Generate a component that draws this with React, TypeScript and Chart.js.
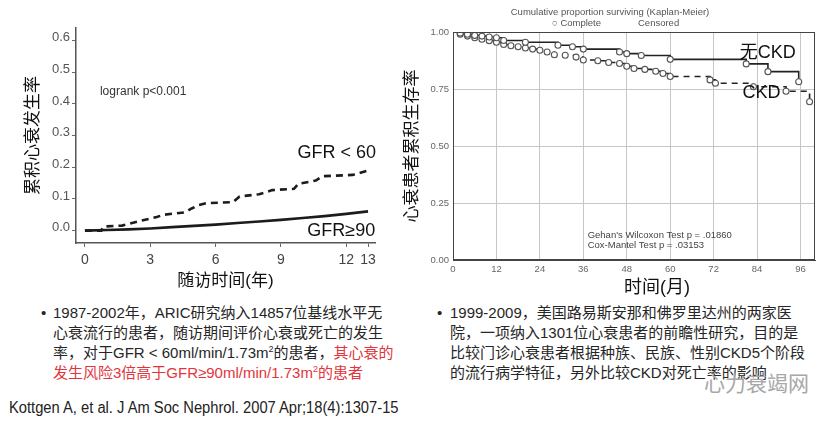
import React, { useEffect, useRef } from 'react';
import { Chart, registerables } from 'chart.js';

Chart.register(...registerables);

// ---------- Left chart (ARIC) ----------
const leftXTicks = [0, 3, 6, 9, 12, 13];
const leftYTicks = [0, 0.1, 0.2, 0.3, 0.4, 0.5, 0.6];
const gfr60Years = [0, 0.75, 0.85, 1.7, 2.5, 3.3, 3.6, 4.6, 4.9, 5.2, 5.6, 6.8, 7.1, 8.0, 8.6, 9.6, 9.8, 10.6, 10.9, 12.3, 13];
const gfr60Rate = [0, 0, 0.013, 0.016, 0.03, 0.043, 0.05, 0.058, 0.07, 0.08, 0.087, 0.09, 0.108, 0.115, 0.128, 0.132, 0.148, 0.158, 0.172, 0.176, 0.19];
const gfr90Years = [0, 1, 2, 3, 4, 5, 6, 7, 8, 9, 10, 11, 12, 13];
const gfr90Rate = [0, 0.002, 0.004, 0.007, 0.011, 0.015, 0.019, 0.024, 0.029, 0.034, 0.04, 0.046, 0.053, 0.061];

// ---------- Right chart (Kaplan-Meier) ----------
const kmXTicks = [0, 12, 24, 36, 48, 60, 72, 84, 96];
const kmYTicks = [0, 0.25, 0.5, 0.75, 1.0];
const noCkdMonths = [0, 2, 4, 6, 8, 10, 12, 14, 20, 29, 33, 36, 46, 48, 52, 60, 81, 87, 95.5];
const noCkdSurv = [1.0, 0.995, 0.99, 0.985, 0.982, 0.978, 0.975, 0.963, 0.955, 0.942, 0.935, 0.925, 0.912, 0.905, 0.897, 0.88, 0.86, 0.826, 0.782];
const ckdMonths = [0, 2, 4, 6, 8, 10, 12, 14, 16, 18, 20, 22, 24, 26, 28, 31, 34, 36, 40, 43, 46, 48, 50, 53, 56, 58, 60, 71, 72.5, 83, 92, 98.5];
const ckdSurv = [1.0, 0.99, 0.982, 0.975, 0.968, 0.962, 0.955, 0.945, 0.94, 0.935, 0.93, 0.925, 0.92, 0.912, 0.9, 0.898, 0.89, 0.877, 0.874, 0.866, 0.862, 0.85, 0.84, 0.836, 0.828, 0.818, 0.805, 0.79, 0.775, 0.76, 0.74, 0.694];

const FONT = '"Liberation Sans", "Noto Sans CJK SC", Arial, sans-serif';

type Note = {
  text: string;
  x: number;
  y: number;
  size: number;
  color: string;
  align?: CanvasTextAlign;
  coord?: 'data' | 'canvas';
};

const notesPlugin = {
  id: 'notes',
  afterDraw(chart: any, _args: any, opts: any) {
    const items: Note[] = (opts && opts.items) || [];
    const ctx = chart.ctx as CanvasRenderingContext2D;
    ctx.save();
    for (const it of items) {
      let px = it.x;
      let py = it.y;
      if (it.coord !== 'canvas') {
        px = chart.scales.x.getPixelForValue(it.x);
        py = chart.scales.y.getPixelForValue(it.y);
      }
      ctx.font = `${it.size}px ${FONT}`;
      ctx.fillStyle = it.color;
      ctx.textAlign = it.align || 'left';
      ctx.textBaseline = 'middle';
      ctx.fillText(it.text, px, py);
    }
    ctx.restore();
  },
};

const frameBorderPlugin = {
  id: 'frameBorder',
  afterDatasetsDraw(chart: any, _args: any, opts: any) {
    if (!opts || !opts.enabled) return;
    const { left, top, right, bottom } = chart.chartArea;
    const ctx = chart.ctx as CanvasRenderingContext2D;
    ctx.save();
    ctx.strokeStyle = opts.color || '#444';
    ctx.lineWidth = opts.width || 1;
    ctx.strokeRect(left + 0.5, top + 0.5, right - left - 1, bottom - top - 1);
    ctx.restore();
  },
};

function LeftChart() {
  const ref = useRef<HTMLCanvasElement>(null);
  useEffect(() => {
    const chart = new Chart(ref.current as HTMLCanvasElement, {
      type: 'line',
      data: {
        datasets: [
          {
            label: 'GFR < 60',
            data: gfr60Years.map((t, i) => ({ x: t, y: gfr60Rate[i] })),
            borderColor: '#1c1c1c',
            borderWidth: 2.6,
            borderDash: [7, 5],
            pointRadius: 0,
            tension: 0,
          },
          {
            label: 'GFR≥90',
            data: gfr90Years.map((t, i) => ({ x: t, y: gfr90Rate[i] })),
            borderColor: '#1c1c1c',
            borderWidth: 2.6,
            pointRadius: 0,
            tension: 0,
          },
        ],
      },
      options: {
        responsive: false,
        animation: false,
        devicePixelRatio: 1,
        layout: { padding: { left: 0, top: 28, right: 25, bottom: 0 } },
        scales: {
          x: {
            type: 'linear',
            min: -0.41,
            max: 13.32,
            afterBuildTicks: (s: any) => {
              s.ticks = leftXTicks.map((v) => ({ value: v }));
            },
            afterFit: (s: any) => {
              s.height = 57;
            },
            grid: { drawOnChartArea: false, drawTicks: true, tickLength: 4, color: '#666' },
            border: { display: true, color: '#555', width: 1.5 },
            ticks: {
              autoSkip: false,
              maxRotation: 0,
              padding: 5,
              color: '#444',
              font: { size: 14, family: FONT },
              callback: (v: any) => String(v),
            },
            title: {
              display: true,
              text: '随访时间(年)',
              color: '#111',
              font: { size: 17, family: FONT },
              padding: { top: 0, bottom: 8 },
            },
          },
          y: {
            type: 'linear',
            min: -0.039,
            max: 0.64,
            afterBuildTicks: (s: any) => {
              s.ticks = leftYTicks.map((v) => ({ value: v }));
            },
            afterFit: (s: any) => {
              s.width = 76;
            },
            grid: { drawOnChartArea: false, drawTicks: true, tickLength: 4, color: '#666' },
            border: { display: true, color: '#555', width: 1.5 },
            ticks: {
              autoSkip: false,
              padding: 2,
              labelOffset: -3,
              color: '#555',
              font: { size: 13, family: FONT },
              callback: (v: any) => Number(v).toFixed(1),
            },
            title: {
              display: true,
              text: '累积心衰发生率',
              color: '#111',
              font: { size: 17, family: FONT },
              padding: { top: 23, bottom: 0 },
            },
          },
        },
        plugins: {
          legend: { display: false },
          tooltip: { enabled: false },
          notes: {
            items: [
              { text: 'logrank p<0.001', x: 0.69, y: 0.44, size: 12, color: '#333' },
              { text: 'GFR < 60', x: 13.37, y: 0.245, size: 18, color: '#111', align: 'right' },
              { text: 'GFR≥90', x: 13.33, y: 0.0, size: 18, color: '#111', align: 'right' },
            ],
          },
        } as any,
      },
      plugins: [notesPlugin],
    } as any);
    return () => chart.destroy();
  }, []);
  return (
    <canvas
      ref={ref}
      width={400}
      height={300}
      style={{ position: 'absolute', left: 0, top: 0, width: 400, height: 300 }}
    />
  );
}

function RightChart() {
  const ref = useRef<HTMLCanvasElement>(null);
  useEffect(() => {
    const pr = (ctx: any) => (ctx.dataIndex === 0 ? 0 : 3);
    const chart = new Chart(ref.current as HTMLCanvasElement, {
      type: 'line',
      data: {
        datasets: [
          {
            label: '无CKD',
            data: noCkdMonths.map((t, i) => ({ x: t, y: noCkdSurv[i] })),
            stepped: true,
            borderColor: '#222',
            borderWidth: 1.6,
            pointRadius: pr,
            pointBackgroundColor: '#fff',
            pointBorderColor: '#555',
            pointBorderWidth: 1.1,
          },
          {
            label: 'CKD',
            data: ckdMonths.map((t, i) => ({ x: t, y: ckdSurv[i] })),
            stepped: true,
            borderColor: '#222',
            borderWidth: 1.6,
            borderDash: [6, 5],
            pointRadius: pr,
            pointBackgroundColor: '#fff',
            pointBorderColor: '#555',
            pointBorderWidth: 1.1,
          },
        ],
      },
      options: {
        responsive: false,
        animation: false,
        devicePixelRatio: 1,
        layout: { padding: { left: 0, top: 32, right: 19, bottom: 0 } },
        scales: {
          x: {
            type: 'linear',
            min: 0,
            max: 100,
            afterBuildTicks: (s: any) => {
              s.ticks = kmXTicks.map((v) => ({ value: v }));
            },
            afterFit: (s: any) => {
              s.height = 40;
            },
            grid: { color: '#c6c6c6', lineWidth: 1, drawTicks: false },
            border: { display: true, color: '#444', width: 1 },
            ticks: {
              autoSkip: false,
              maxRotation: 0,
              padding: 4,
              color: '#666',
              font: { size: 9.5, family: FONT },
              callback: (v: any) => String(v),
            },
          },
          y: {
            type: 'linear',
            min: 0,
            max: 1,
            afterBuildTicks: (s: any) => {
              s.ticks = kmYTicks.map((v) => ({ value: v }));
            },
            afterFit: (s: any) => {
              s.width = 67;
            },
            grid: { color: '#c6c6c6', lineWidth: 1, drawTicks: false },
            border: { display: true, color: '#444', width: 1 },
            ticks: {
              autoSkip: false,
              padding: 4,
              color: '#666',
              font: { size: 9.5, family: FONT },
              callback: (v: any) => Number(v).toFixed(2),
            },
            title: {
              display: true,
              text: '心衰患者累积生存率',
              color: '#111',
              font: { size: 17, family: FONT },
              padding: { top: 16, bottom: 0 },
            },
          },
        },
        plugins: {
          legend: { display: false },
          tooltip: { enabled: false },
          frameBorder: { enabled: true, color: '#444', width: 1 },
          notes: {
            items: [
              { text: 'Cumulative proportion surviving (Kaplan-Meier)', x: 224, y: 12, size: 9.5, color: '#555', align: 'center', coord: 'canvas' },
              { text: '○ Complete', x: 166, y: 23, size: 9.5, color: '#555', align: 'left', coord: 'canvas' },
              { text: 'Censored', x: 252, y: 23, size: 9.5, color: '#555', align: 'left', coord: 'canvas' },
              { text: '时间(月)', x: 271, y: 288, size: 18, color: '#111', align: 'center', coord: 'canvas' },
              { text: '无CKD', x: 79.2, y: 0.908, size: 18, color: '#111' },
              { text: 'CKD', x: 80, y: 0.732, size: 18, color: '#111' },
              { text: "Gehan's Wilcoxon Test p = .01860", x: 37.2, y: 0.11, size: 9.5, color: '#444' },
              { text: 'Cox-Mantel Test p = .03153', x: 37.2, y: 0.066, size: 9.5, color: '#444' },
            ],
          },
        } as any,
      },
      plugins: [frameBorderPlugin, notesPlugin],
    } as any);
    return () => chart.destroy();
  }, []);
  return (
    <canvas
      ref={ref}
      width={448}
      height={300}
      style={{ position: 'absolute', left: 386, top: 0, width: 448, height: 300 }}
    />
  );
}

const textStyle: React.CSSProperties = {
  position: 'absolute',
  fontFamily: FONT,
  fontSize: 15,
  lineHeight: '20px',
  color: '#262626',
  whiteSpace: 'nowrap',
};
const red: React.CSSProperties = { color: '#e3343b' };
const sup: React.CSSProperties = { fontSize: 9, verticalAlign: 'top', lineHeight: '12px' };

export default function App() {
  return (
    <div
      style={{
        position: 'fixed',
        left: 0,
        top: 0,
        width: 834,
        height: 423,
        background: '#fff',
        overflow: 'hidden',
      }}
    >
      <LeftChart />
      <RightChart />

      <div style={{ ...textStyle, left: 41, top: 303 }}>•</div>
      <div style={{ ...textStyle, left: 53, top: 303 }}>
        1987-2002年，ARIC研究纳入14857位基线水平无
        <br />
        心衰流行的患者，随访期间评价心衰或死亡的发生
        <br />
        率，对于GFR &lt; 60ml/min/1.73m<span style={sup}>2</span>的患者，<span style={red}>其心衰的</span>
        <br />
        <span style={red}>
          发生风险3倍高于GFR≥90ml/min/1.73m<span style={sup}>2</span>的患者
        </span>
      </div>

      <div style={{ ...textStyle, left: 437, top: 303 }}>•</div>
      <div style={{ ...textStyle, left: 450, top: 303 }}>
        1999-2009，美国路易斯安那和佛罗里达州的两家医
        <br />
        院，一项纳入1301位心衰患者的前瞻性研究，目的是
        <br />
        比较门诊心衰患者根据种族、民族、性别CKD5个阶段
        <br />
        的流行病学特征，另外比较CKD对死亡率的影响
      </div>

      <div
        style={{
          position: 'absolute',
          left: 704,
          top: 372,
          fontFamily: FONT,
          fontSize: 21,
          lineHeight: '24px',
          color: '#a8a8a8',
          whiteSpace: 'nowrap',
        }}
      >
        心力衰竭网
      </div>

      <div
        style={{
          position: 'absolute',
          left: 9,
          top: 398,
          fontFamily: '"Liberation Sans Narrow", "Arial Narrow", "Liberation Sans", sans-serif',
          fontSize: 16,
          lineHeight: '20px',
          color: '#222',
          whiteSpace: 'nowrap',
          transform: 'scaleX(0.92)',
          transformOrigin: 'left center',
        }}
      >
        Kottgen A, et al. J Am Soc Nephrol. 2007 Apr;18(4):1307-15
      </div>
    </div>
  );
}
